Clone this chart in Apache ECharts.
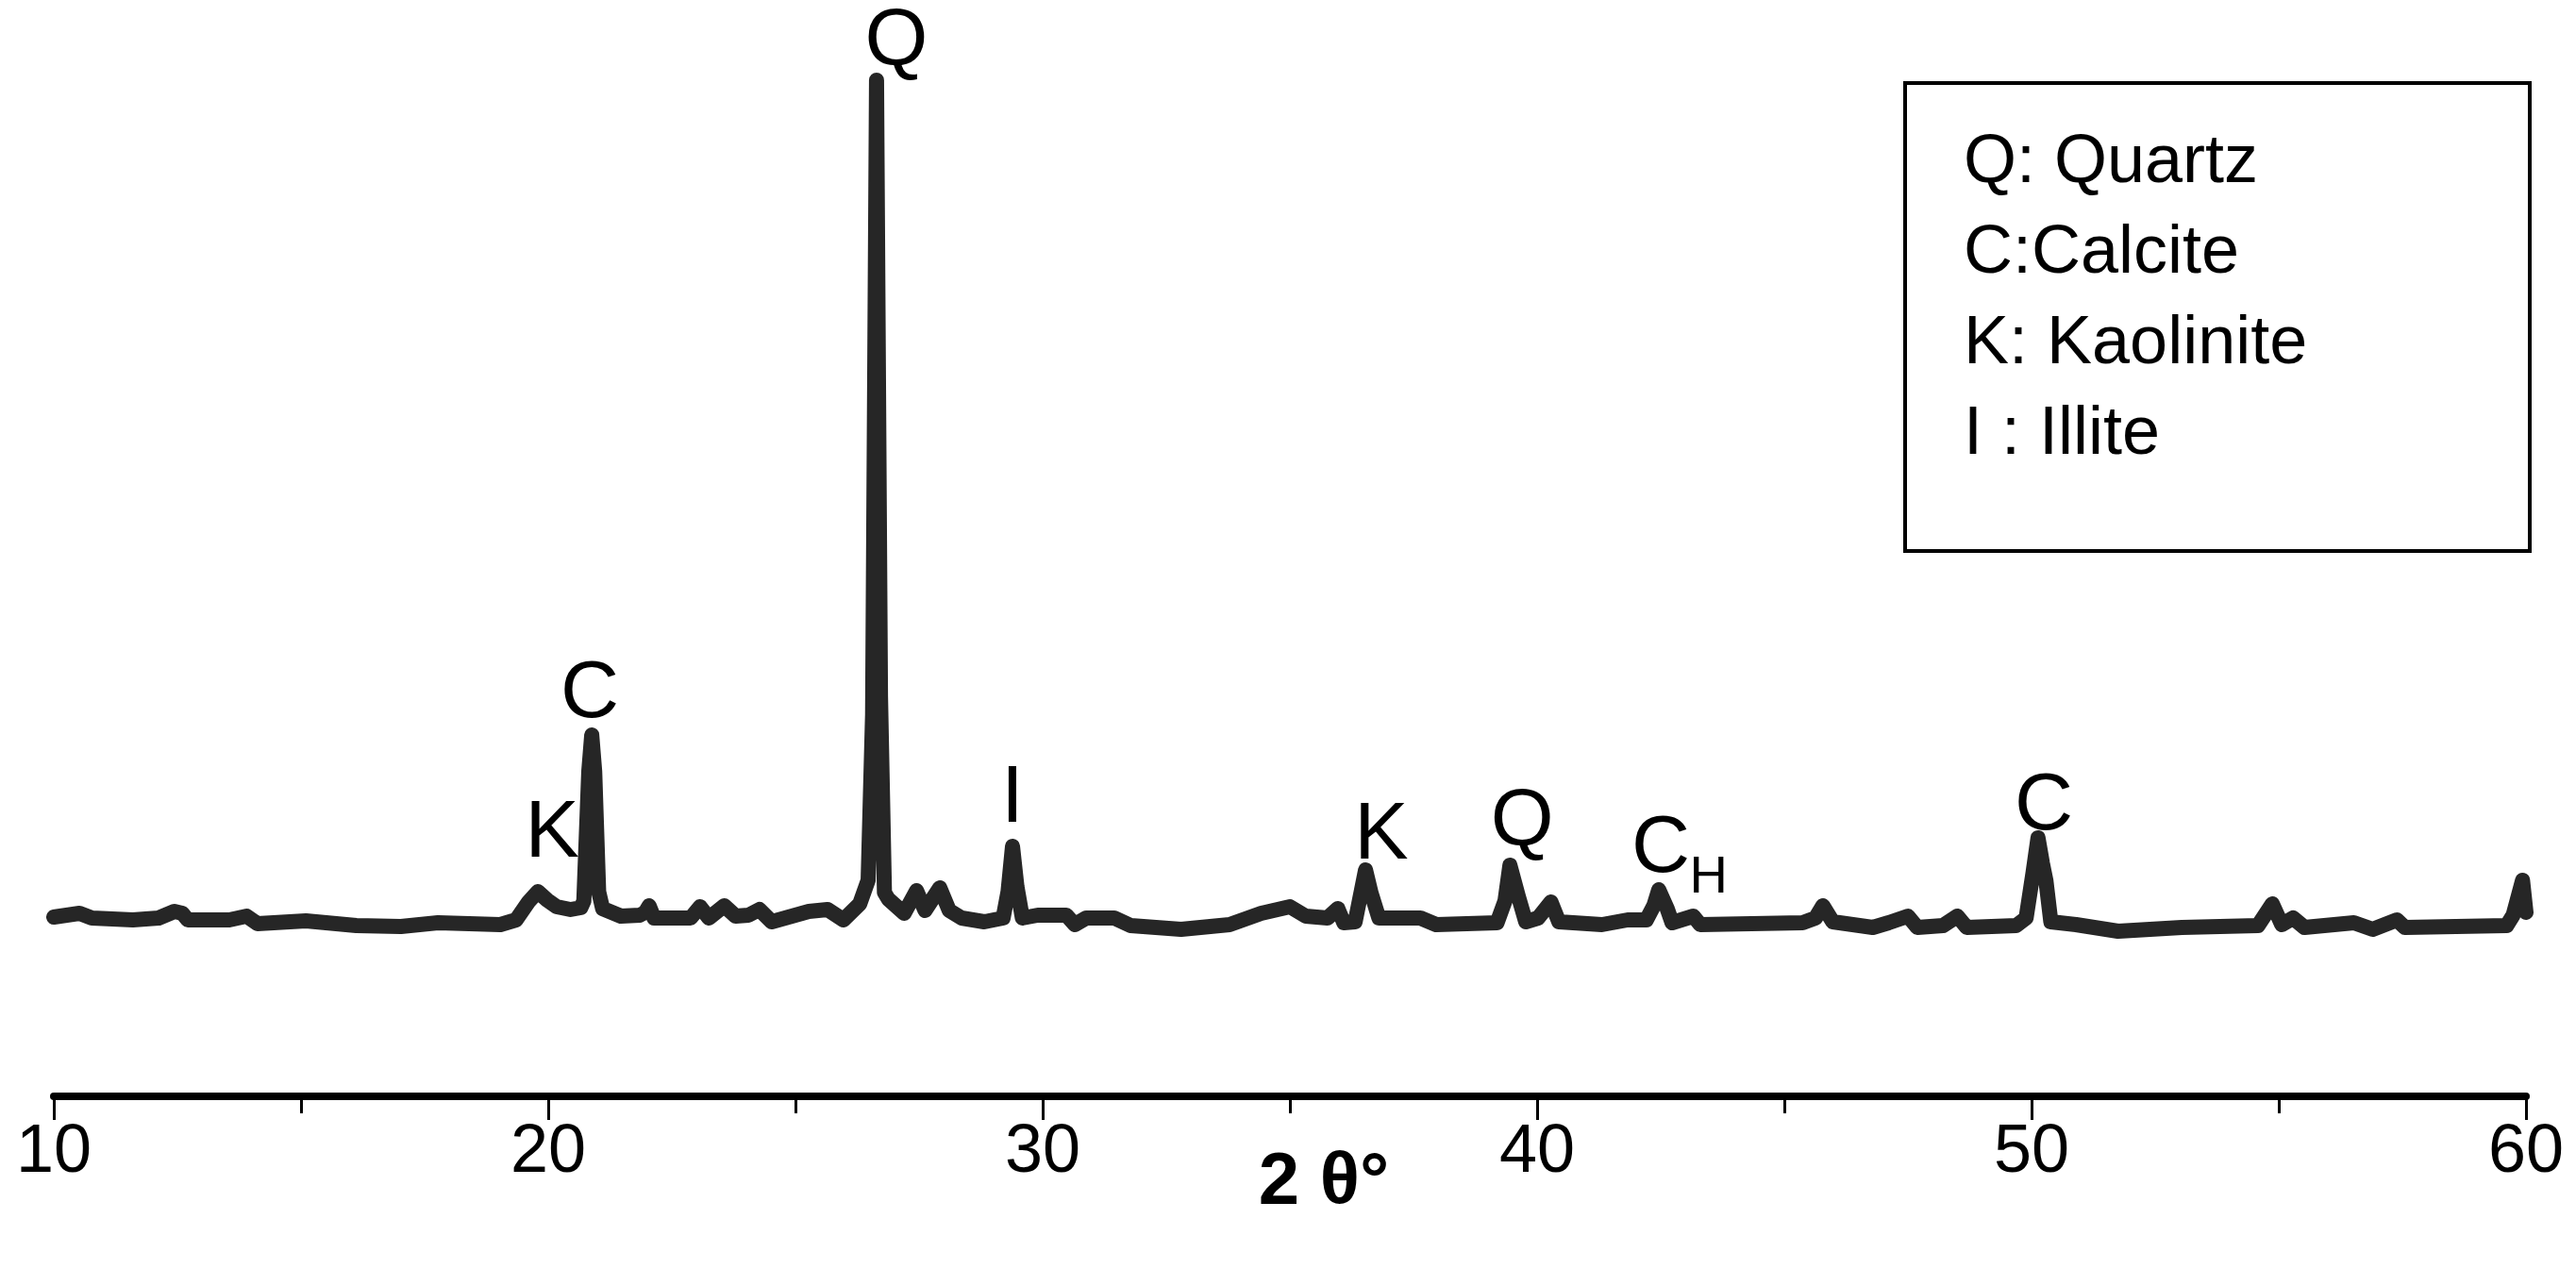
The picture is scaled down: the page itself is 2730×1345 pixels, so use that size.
<!DOCTYPE html>
<html>
<head>
<meta charset="utf-8">
<script src="https://cdn.jsdelivr.net/npm/echarts@6/dist/echarts.min.js"></script>
<style>
html,body{margin:0;padding:0;background:#fff;}
#chart{width:2730px;height:1345px;}
</style>
</head>
<body>
<div id="chart"></div>
<script>
// 2θ positions (degrees) of the XRD trace
var twoTheta = [
  10.00,10.52,10.77,11.60,12.12,12.44,12.60,12.71,13.55,13.90,14.12,15.10,16.12,17.02,17.77,19.03,19.35,19.60,19.79,19.98,
  20.17,20.45,20.66,20.72,20.82,20.88,20.94,21.02,21.10,21.47,21.85,21.96,22.04,22.14,22.88,23.07,23.25,23.56,23.79,24.05,
  24.27,24.52,25.27,25.65,25.97,26.30,26.47,26.56,26.64,26.72,26.80,26.88,27.20,27.45,27.62,27.92,28.11,28.36,28.82,29.20,
  29.30,29.39,29.48,29.59,29.90,30.48,30.65,30.88,31.45,31.78,32.80,33.78,34.42,35.00,35.32,35.76,35.97,36.09,36.32,36.53,
  36.64,36.80,37.64,37.96,39.19,39.35,39.45,39.62,39.77,40.02,40.28,40.44,41.31,41.83,42.21,42.36,42.46,42.63,42.73,43.16,
  43.30,45.37,45.63,45.78,45.98,46.79,47.11,47.50,47.69,48.21,48.50,48.69,49.69,49.89,50.03,50.13,50.22,50.29,50.39,50.90,
  51.75,53.04,54.58,54.87,55.06,55.29,55.52,56.52,56.90,57.39,57.55,59.61,59.74,59.93,60.00
];
// Intensity (arbitrary units)
var intensity = [
  186,190,185,183,185,192,190,183,183,187,179,182,177,176,180,178,183,202,213,204,
  197,194,196,203,340,379,340,213,195,187,188,191,198,185,185,197,185,198,187,188,
  194,181,192,194,183,200,225,400,1073,420,212,205,190,214,193,217,193,185,181,185,
  213,261,218,185,188,188,178,185,185,177,173,178,190,197,187,185,195,180,181,236,
  212,185,185,178,180,203,241,208,181,185,202,181,178,183,183,198,215,195,180,187,
  178,180,185,198,181,175,180,187,175,177,187,175,177,185,233,270,243,225,181,178,
  171,175,177,200,178,185,175,180,173,183,175,177,188,225,191
];
// Peak annotations: label text and label centre (2θ, intensity)
var peakText  = ['Q', 'C', 'K', 'I', 'K', 'Q', 'C', 'C'];
var peakTheta = [27.04, 20.84, 20.08, 29.39, 36.85, 39.70, 42.50, 50.25];
var peakLevel = [1113, 422, 274, 311, 272, 286, 258, 303];
// subscript label (C_H)
var subText  = ['H'];
var subTheta = [43.47];
var subLevel = [227];
// x-axis ticks
var xTicks = [10, 20, 30, 40, 50, 60];
var legendLines = ['Q: Quartz', 'C:Calcite', 'K: Kaolinite', 'I : Illite'];
var axisTitle = '2 θ°';

var FONT = '"Liberation Sans Narrow", "Arial Narrow", "Liberation Sans", Arial, sans-serif';

var trace = twoTheta.map(function (t, i) { return [t, intensity[i]]; });
var peaks = peakText.map(function (s, i) { return [peakTheta[i], peakLevel[i], s]; });
var subs = subText.map(function (s, i) { return [subTheta[i], subLevel[i], s]; });

var graphics = [
  {
    type: 'rect', left: 2017, top: 86, z: 10,
    shape: {width: 662, height: 496},
    style: {fill: '#fff', stroke: '#000', lineWidth: 4}
  },
  {
    type: 'text', z: 11,
    x: 1403, y: 1254,
    style: {text: axisTitle, font: 'bold 78px ' + FONT, fill: '#000', textAlign: 'center', textVerticalAlign: 'middle'}
  }
];
legendLines.forEach(function (s, i) {
  graphics.push({type: 'text', z: 12, x: 2081, y: 137 + i * 96,
    style: {text: s, font: '72px ' + FONT, fill: '#000', textVerticalAlign: 'top'}});
});

function labelSeries(data, size) {
  return {
    type: 'scatter', data: data, symbolSize: 0, silent: true, clip: false, z: 3,
    itemStyle: {opacity: 1, color: '#000'},
    label: {show: true, position: 'inside', formatter: function (p) { return p.data[2]; },
      fontFamily: FONT, fontSize: size, color: '#000', opacity: 1, textBorderWidth: 0}
  };
}

var chart = echarts.init(document.getElementById('chart'), null, {renderer: 'canvas'});
chart.setOption({
  animation: false,
  backgroundColor: '#ffffff',
  grid: {left: 57, right: 53, top: 8, bottom: 183, containLabel: false},
  xAxis: {
    type: 'value',
    min: xTicks[0], max: xTicks[xTicks.length - 1], interval: 10,
    axisLine: {show: true, onZero: false, lineStyle: {color: '#000', width: 8}},
    axisTick: {show: true, length: 25, lineStyle: {color: '#000', width: 3}},
    minorTick: {show: true, splitNumber: 2, length: 18, lineStyle: {color: '#000', width: 3}},
    axisLabel: {show: true, fontFamily: FONT, fontSize: 72, color: '#000', margin: 24},
    splitLine: {show: false}
  },
  yAxis: {
    type: 'value', min: -4, max: 1150, show: false,
    splitLine: {show: false}
  },
  series: [
    {
      type: 'line', data: trace, showSymbol: false, symbol: 'none', smooth: false,
      lineStyle: {color: '#262626', width: 16, join: 'round', cap: 'round'},
      silent: true, z: 2
    },
    labelSeries(peaks, 86),
    labelSeries(subs, 56)
  ],
  graphic: graphics
});
</script>
</body>
</html>
